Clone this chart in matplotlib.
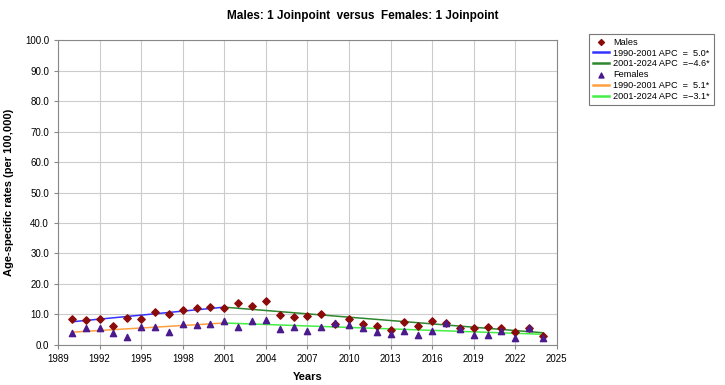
import matplotlib
matplotlib.use("Agg")
import matplotlib.pyplot as plt

plt.rcParams['font.family'] = ['Liberation Sans', 'DejaVu Sans']

years = list(range(1990, 2025))
males = [8.4, 8.2, 8.6, 6.3, 8.9, 8.6, 10.9, 10.0, 11.4, 12.0, 12.5, 12.2,
         13.6, 12.7, 14.3, 9.8, 9.2, 9.5, 10.1, 7.0, 8.4, 6.8, 6.3, 4.9,
         7.4, 6.2, 7.9, 7.2, 5.7, 5.4, 5.8, 5.4, 4.2, 5.7, 2.9]
females = [3.8, 5.7, 5.7, 3.8, 2.5, 6.0, 6.0, 4.2, 6.9, 6.4, 6.9, 7.9,
           5.8, 7.8, 8.2, 5.1, 5.9, 4.7, 6.0, 7.2, 6.6, 5.4, 4.3, 3.5,
           4.5, 3.2, 4.5, 7.3, 5.3, 3.3, 3.3, 4.7, 2.4, 5.4, 2.2]

# joinpoint segments: (start year, end year) and fitted values at the ends
male_seg1_x, male_seg1_y = [1990, 2001], [7.6, 12.4]
male_seg2_x, male_seg2_y = [2001, 2024], [12.4, 4.0]
female_seg1_x, female_seg1_y = [1990, 2001], [4.2, 7.2]
female_seg2_x, female_seg2_y = [2001, 2024], [7.2, 3.5]

x_ticks = list(range(1989, 2026, 3))
y_ticks = list(range(0, 101, 10))

fig = plt.figure(figsize=(7.25, 3.85), dpi=100)
ax = fig.add_axes([0.080, 0.104, 0.688, 0.792])

ax.plot(male_seg1_x, male_seg1_y, color='#3333ff', lw=1.1, label='1990-2001 APC  =  5.0*', zorder=2)
ax.plot(male_seg2_x, male_seg2_y, color='#2e862e', lw=1.1, label='2001-2024 APC  =\u22124.6*', zorder=2)
ax.plot(female_seg1_x, female_seg1_y, color='#ffa040', lw=1.1, label='1990-2001 APC  =  5.1*', zorder=2)
ax.plot(female_seg2_x, female_seg2_y, color='#44ee44', lw=1.1, label='2001-2024 APC  =\u22123.1*', zorder=2)

ax.scatter(years, males, marker='D', s=14, color='#8b0a0a', label='Males', zorder=3)
ax.scatter(years, females, marker='^', s=20, color='#4b1a8c', label='Females', zorder=4)

ax.set_xlim(1989, 2025)
ax.set_ylim(0, 100)
ax.set_xticks(x_ticks)
ax.set_yticks(y_ticks)
ax.set_yticklabels([f"{v:.1f}" for v in y_ticks])
ax.tick_params(axis='both', labelsize=7, length=3, color='#888888')
ax.grid(True, color='#cccccc', lw=0.8)
ax.set_axisbelow(True)
for s in ax.spines.values():
    s.set_color('#888888')

ax.set_xlabel('Years', fontsize=8, fontweight='bold', labelpad=6)
ax.set_ylabel('Age-specific rates (per 100,000)', fontsize=8, fontweight='bold', labelpad=8)
fig.suptitle('Males: 1 Joinpoint  versus  Females: 1 Joinpoint', x=0.5, y=0.975,
             fontsize=8.5, fontweight='bold')

handles, labels = ax.get_legend_handles_labels()
order = [4, 0, 1, 5, 2, 3]
leg = fig.legend([handles[i] for i in order], [labels[i] for i in order],
                 loc='upper left', bbox_to_anchor=(0.808, 0.92), fontsize=6.6,
                 frameon=True, fancybox=False, edgecolor='#555555',
                 handlelength=1.8, handletextpad=0.4, borderpad=0.45, labelspacing=0.2,
                 borderaxespad=0.3, markerscale=0.8)
leg.get_frame().set_linewidth(0.8)
for h in leg.legend_handles:
    if h.__class__.__name__ == 'Line2D':
        h.set_linewidth(1.8)

fig.savefig('out.png', dpi=100)
